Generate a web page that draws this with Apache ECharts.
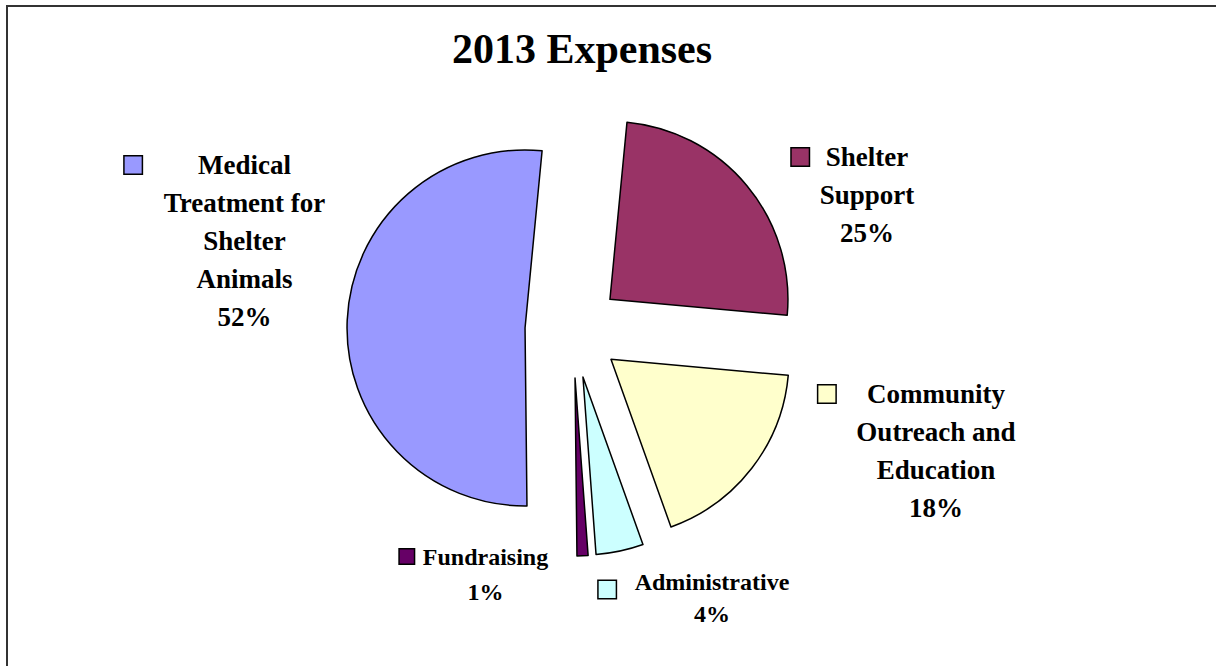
<!DOCTYPE html>
<html>
<head>
<meta charset="utf-8">
<script src="https://cdn.jsdelivr.net/npm/echarts@6/dist/echarts.min.js"></script>
<style>
html,body{margin:0;padding:0;background:#fff;}
#chart{width:1225px;height:666px;}
</style>
</head>
<body>
<div id="chart"></div>
<script>
// ---- data ----
const chartTitle = '2013 Expenses';
const categories = ['Shelter Support', 'Community Outreach and Education', 'Administrative', 'Fundraising', 'Medical Treatment for Shelter Animals'];
const categoryLines = [['Shelter', 'Support'], ['Community', 'Outreach and', 'Education'], ['Administrative'], ['Fundraising'], ['Medical', 'Treatment for', 'Shelter', 'Animals']];
const values = [24.9, 18.1, 4.3, 1.0, 51.7];
const colors = ['#993366', '#FFFFCC', '#CCFFFF', '#660066', '#9999FF'];

// ---- layout / style ----
const FONT = '"Liberation Serif", "Times New Roman", serif';
const labelAnchors = [[853, 195], [917, 451], [694, 598], [474, 574], [225, 241]];
const labelSize = [
  {fs: 27, lh: 38, box: 17, gap: 11, boxAlign: 'middle'},
  {fs: 27, lh: 38, box: 17, gap: 21, boxAlign: 'middle'},
  {fs: 24, lh: 32, box: 17, gap: 19, boxAlign: 'bottom'},
  {fs: 24, lh: 35, box: 14, gap: 9, boxAlign: 'middle'},
  {fs: 27, lh: 38, box: 17, gap: 22, boxAlign: 'middle'}
];

function buildRich(i) {
  const s = labelSize[i];
  return {
    box: {width: s.box, height: s.box, backgroundColor: colors[i], borderColor: '#000', borderWidth: 1.5,
          align: 'left', verticalAlign: s.boxAlign, lineHeight: s.lh, fontSize: s.fs},
    gap: {width: s.gap, align: 'left', lineHeight: s.lh, fontSize: s.fs},
    sp: {width: s.box + s.gap, align: 'left', lineHeight: s.lh, fontSize: s.fs},
    t: {align: 'center', fontFamily: FONT, fontWeight: 'bold', fontSize: s.fs, lineHeight: s.lh, fill: '#000'}
  };
}

function buildLabelText(i) {
  const lines = categoryLines[i];
  let str = '{box|}{gap|}{t|' + lines[0] + '}';
  for (let k = 1; k < lines.length; k++) str += '\n{sp|}{t|' + lines[k] + '}';
  str += '\n{sp|}{t|' + Math.round(values[i]) + '%}';
  return str;
}

const pieData = categories.map((name, i) => ({
  name: name,
  value: values[i],
  selected: true,
  itemStyle: {color: colors[i]}
}));

const labelGraphics = categories.map((name, i) => ({
  type: 'text',
  x: labelAnchors[i][0],
  y: labelAnchors[i][1],
  silent: true,
  style: {
    text: buildLabelText(i),
    rich: buildRich(i),
    align: 'center',
    verticalAlign: 'middle',
    fontFamily: FONT,
    fontWeight: 'bold',
    fontSize: labelSize[i].fs,
    lineHeight: labelSize[i].lh,
    fill: '#000'
  }
}));

const chart = echarts.init(document.getElementById('chart'), null, {renderer: 'svg'});
chart.setOption({
  animation: false,
  backgroundColor: '#fff',
  title: {
    text: chartTitle,
    left: 577,
    top: 23,
    textAlign: 'center',
    textStyle: {fontFamily: FONT, fontWeight: 'bold', fontSize: 42, color: '#000'}
  },
  graphic: [
    {type: 'line', shape: {x1: 6, y1: 6, x2: 1216, y2: 6}, style: {stroke: '#333', lineWidth: 2}},
    {type: 'line', shape: {x1: 7, y1: 5, x2: 7, y2: 666}, style: {stroke: '#333', lineWidth: 2}}
  ].concat(labelGraphics),
  series: [{
    type: 'pie',
    center: [573, 330],
    radius: 178,
    startAngle: 84.5,
    clockwise: true,
    selectedMode: 'multiple',
    selectedOffset: 48,
    avoidLabelOverlap: false,
    itemStyle: {borderColor: '#000', borderWidth: 1.5},
    select: {itemStyle: {borderColor: '#000', borderWidth: 1.5}},
    emphasis: {disabled: true},
    label: {show: false},
    labelLine: {show: false},
    data: pieData
  }]
});
</script>
</body>
</html>
